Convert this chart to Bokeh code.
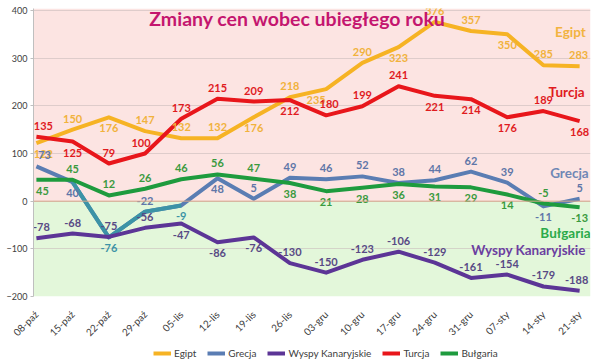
from math import pi
from bokeh.plotting import figure
from bokeh.layouts import column
from bokeh.models import (BoxAnnotation, Span, Label, Legend, LegendItem,
                          FixedTicker, ColumnDataSource)
from bokeh.core.properties import value
from bokeh.embed import file_html
from bokeh.resources import INLINE

dates = ["08-paź", "15-paź", "22-paź", "29-paź", "05-lis", "12-lis", "19-lis",
         "26-lis", "03-gru", "10-gru", "17-gru", "24-gru", "31-gru", "07-sty",
         "14-sty", "21-sty"]
egipt = [122, 150, 176, 147, 132, 132, 176, 218, 235, 290, 323, 376, 357, 350, 285, 283]
turcja = [135, 125, 79, 100, 173, 215, 209, 212, 180, 199, 241, 221, 214, 176, 189, 168]
grecja = [73, 40, -76, -22, -9, 48, 5, 49, 46, 52, 38, 44, 62, 39, -11, 5]
bulgaria = [45, 45, 12, 26, 46, 56, 47, 38, 21, 28, 36, 31, 29, 14, -5, -13]
wyspy = [-78, -68, -75, -56, -47, -86, -76, -130, -150, -123, -106, -129, -161, -154, -179, -188]
y_ticks = [-200, -100, 0, 100, 200, 300, 400]

# label placement (a = above, b = below) and small horizontal nudges
side_egipt = "babaaabababaabaa"
side_turcja = "abaaaaabaaabbbab"
side_grecja = "abbabbaaaaaaaaba"
side_bulgaria = "baaaaaabbbbbbbab"
side_wyspy = "aaaabbbaaaaaaaaa"
nudge_egipt = [7, 0, 0, 0, 0, 0, 0, 0, -10, 0, 0, 0, 0, 0, 0, -1]
nudge_turcja = [7, 0, 0, -4, 0, 0, 0, 0, 3, 0, 0, 0, 0, 0, 0, 0]
nudge_grecja = [8, 0, 0, 0, 0, 0, 0, 0, 0, 0, 0, 0, 0, 0, 0, 0]
nudge_bulgaria = [6, 0, 0, 0, 0, 0, 0, 0, 0, 0, 0, 0, 0, 0, 0, 0]
nudge_wyspy = [5, 0, 0, 0, 0, 0, 0, 0, 0, 0, 0, 0, 0, 0, 0, -3]

xs = list(range(len(dates)))

FONT = "Lato"
p = figure(width=600, height=346, x_range=(-0.08, 15.3), y_range=(-200, 404.2),
           output_backend="svg", toolbar_location=None,
           min_border_left=33, min_border_right=10, min_border_top=8,
           min_border_bottom=50)
p.outline_line_color = None
p.background_fill_color = "white"

p.add_layout(BoxAnnotation(bottom=0, fill_color="#FCE4E2", fill_alpha=1,
                           line_alpha=0, level="image"))
p.add_layout(BoxAnnotation(top=0, fill_color="#E3F7DA", fill_alpha=1,
                           line_alpha=0, level="image"))

p.xgrid.visible = False
p.ygrid.grid_line_color = "#C9BDBD"
p.ygrid.grid_line_alpha = 0.6
p.yaxis.ticker = FixedTicker(ticks=y_ticks)
p.yaxis.axis_line_color = "#BFBFBF"
p.yaxis.major_tick_line_color = "#BFBFBF"
p.yaxis.major_tick_out = 3
p.yaxis.major_tick_in = 0
p.yaxis.minor_tick_line_color = None
p.yaxis.major_label_text_font = FONT
p.yaxis.major_label_text_font_size = "9px"
p.yaxis.major_label_text_color = "#404040"
p.yaxis.major_label_standoff = 3

p.xaxis.ticker = FixedTicker(ticks=xs)
p.xaxis.major_label_overrides = {i: d for i, d in enumerate(dates)}
p.xaxis.major_label_orientation = pi / 4
p.xaxis.axis_line_color = None
p.xaxis.major_tick_line_color = None
p.xaxis.major_tick_out = 0
p.xaxis.major_tick_in = 0
p.xaxis.minor_tick_line_color = None
p.xaxis.major_label_text_font = FONT
p.xaxis.major_label_text_font_size = "10px"
p.xaxis.major_label_text_color = "#404040"
p.xaxis.major_label_standoff = 16

p.add_layout(Span(location=0, dimension="width", line_color="#D9A98C", line_width=1))

series = [
    ("Egipt", egipt, "#F6B324", "#F1B23C", side_egipt, nudge_egipt),
    ("Turcja", turcja, "#E8161B", "#E01B1E", side_turcja, nudge_turcja),
    ("Grecja", grecja, "#5A7DB3", "#5F76A8", side_grecja, nudge_grecja),
    ("Bułgaria", bulgaria, "#1E9B3E", "#3A9A3E", side_bulgaria, nudge_bulgaria),
    ("Wyspy Kanaryjskie", wyspy, "#5C3596", "#584A85", side_wyspy, nudge_wyspy),
]
for name, vals, lc, tc, side, nud in series:
    p.line(xs, vals, line_color=lc, line_width=4, line_join="round")
    if name == "Grecja":
        p.line(xs[1:5], vals[1:5], line_color="#3C93A6", line_width=4, line_join="round")

for name, vals, lc, tc, side, nud in series:
    offs = [-11 if s == "a" else 11 for s in side]
    cols = [tc] * len(vals)
    if name == "Grecja":
        cols[2] = "#3C93A6"
        cols[4] = "#3C93A6"
    src = ColumnDataSource(dict(x=xs, y=vals, t=[str(v) for v in vals], o=offs,
                                dx=nud, c=cols))
    p.text(x="x", y="y", text="t", y_offset="o", x_offset="dx", text_color="c",
           source=src, text_align="center", text_baseline="middle",
           text_font=value(FONT), text_font_style="bold", text_font_size="11px")

name_labels = [
    ("Egipt", 15.17, 354, "#F2B33F"),
    ("Turcja", 15.14, 228, "#E01B1E"),
    ("Grecja", 15.25, 59, "#6F87B5"),
    ("Bułgaria", 15.3, -67, "#2BAA4A"),
    ("Wyspy Kanaryjskie", 15.17, -103, "#6B3FA0"),
]
for txt, lx, ly, c in name_labels:
    p.add_layout(Label(x=lx, y=ly, text=txt, text_align="right", text_baseline="middle",
                       text_font=FONT, text_font_style="bold", text_font_size="13.5px",
                       text_color=c))

p.add_layout(Label(x=264, y=278, x_units="screen", y_units="screen",
                   text="Zmiany cen wobec ubiegłego roku", text_align="center",
                   text_baseline="alphabetic", text_font=FONT, text_font_style="bold",
                   text_font_size="19.5px", text_color="#C4166F"))

# legend strip below the chart (swatch lines kept out of view)
lg = figure(width=600, height=14, x_range=(100, 101), y_range=(1000, 1001),
            output_backend="svg", toolbar_location=None,
            x_axis_type=None, y_axis_type=None,
            min_border_left=0, min_border_right=0, min_border_top=0, min_border_bottom=0)
lg.outline_line_color = None
lg.xgrid.visible = False
lg.ygrid.visible = False
items = []
for name in ["Egipt", "Grecja", "Wyspy Kanaryjskie", "Turcja", "Bułgaria"]:
    s = [s for s in series if s[0] == name][0]
    r = lg.line(xs, s[1], line_color=s[2], line_width=4)
    items.append(LegendItem(label=name, renderers=[r]))
legend = Legend(items=items, orientation="horizontal", location=(120, 1),
                label_text_font=FONT, label_text_font_size="10px",
                label_text_color="#404040", glyph_width=18, glyph_height=12,
                label_height=12, label_standoff=3, spacing=11, padding=0, margin=0,
                background_fill_alpha=0, border_line_alpha=0)
lg.add_layout(legend)

layout = column(p, lg, spacing=0)
open("out.html", "w").write(file_html(layout, INLINE))
